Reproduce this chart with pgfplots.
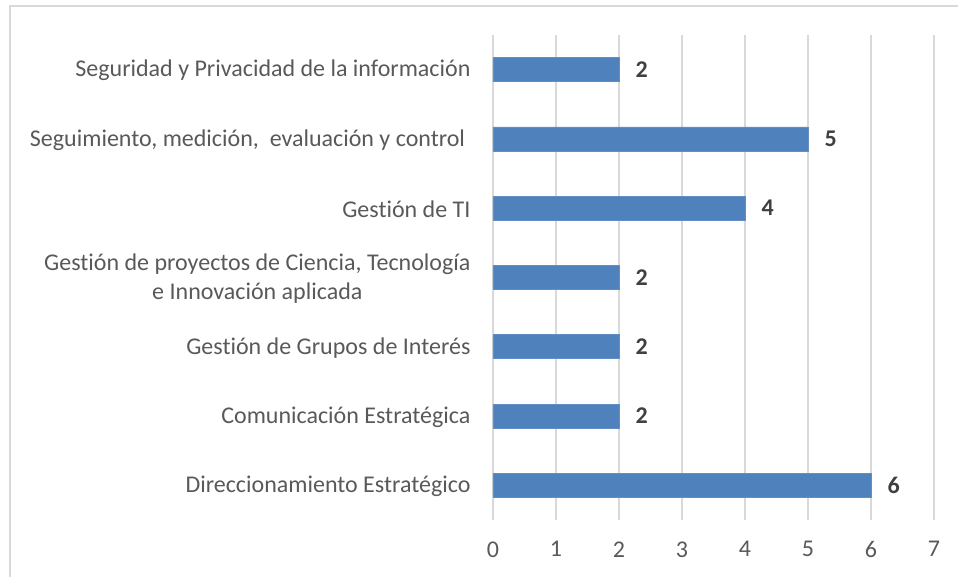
\documentclass[border=0pt]{standalone}
\usepackage{pgfplots}
\pgfplotsset{compat=1.18}
\usepackage{fontspec}
\setmainfont{Carlito}[Ligatures=NoCommon]
\definecolor{barblue}{HTML}{4F81BD}
\definecolor{txtgray}{HTML}{595959}
\definecolor{valgray}{HTML}{404040}
\definecolor{gridgray}{HTML}{D9D9D9}
\begin{document}
\begin{tikzpicture}[x=1pt,y=1pt]
\useasboundingbox (-493,-57) rectangle (465,520);
\draw[gridgray, line width=1.5pt] (-483,-60) -- (-483,514) -- (470,514);
\begin{axis}[
  at={(0,0)}, anchor=south west,
  scale only axis,
  width=441pt, height=485pt,
  xbar, bar width=24pt,
  xmin=0, xmax=7,
  ymin=-0.5, ymax=6.5,
  xtick={0,1,2,3,4,5,6,7},
  ytick={0,1,2,3,4,5,6},
  yticklabels={Direccionamiento Estratégico,Comunicación Estratégica,Gestión de Grupos de Interés,{Gestión de proyectos de Ciencia, Tecnología\\e Innovación aplicada},Gestión de TI,{Seguimiento, medición,\ \ evaluación y control\ },Seguridad y Privacidad de la información},
  yticklabel style={align=center, font=\fontsize{24}{29}\selectfont, text=txtgray, xshift=-19pt, yshift=-1pt},
  xticklabel style={font=\fontsize{24}{29}\selectfont, text=txtgray, yshift=-18pt},
  /pgf/number format/assume math mode=true,
  axis line style={draw=none},
  major tick length=0pt,
  xmajorgrids, grid style={gridgray, line width=1.5pt},
  nodes near coords,
  every node near coord/.append style={font=\bfseries\fontsize{24}{29}\selectfont, text=valgray, xshift=13pt},
]
\addplot[fill=barblue, draw=barblue!90!white, line width=0.8pt] coordinates {
  (6,0) (2,1) (2,2) (2,3) (4,4) (5,5) (2,6)
};
\end{axis}
\end{tikzpicture}
\end{document}
